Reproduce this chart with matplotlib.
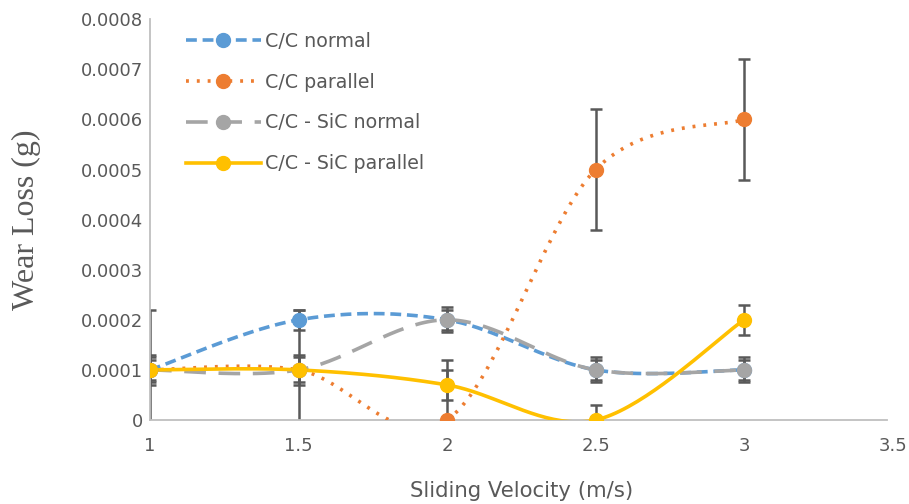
import numpy as np
import matplotlib.pyplot as plt

# Sliding velocity (m/s) and wear loss (g) for each sample / orientation
velocity = [1, 1.5, 2, 2.5, 3]
cc_normal = [0.0001, 0.0002, 0.0002, 0.0001, 0.0001]
cc_parallel = [0.0001, 0.0001, 0.0, 0.0005, 0.0006]
sic_normal = [0.0001, 0.0001, 0.0002, 0.0001, 0.0001]
sic_parallel = [0.0001, 0.0001, 0.00007, 0.0, 0.0002]

# error bar half-widths (g)
err_cc_normal = 0.00002
err_cc_parallel = 0.00012
err_sic_normal = 0.000025
err_sic_parallel = 0.00003

series = [
    ("C/C normal", cc_normal, err_cc_normal, "#5b9bd5", (0, (3, 1.6))),
    ("C/C parallel", cc_parallel, err_cc_parallel, "#ed7d31", (0, (0.8, 2.2))),
    ("C/C - SiC normal", sic_normal, err_sic_normal, "#a5a5a5", (0, (6, 3.5))),
    ("C/C - SiC parallel", sic_parallel, err_sic_parallel, "#ffc000", "-"),
]


def smooth(x, y, n=40):
    # Catmull-Rom style bezier through the points, like a spreadsheet "smoothed line"
    x = np.asarray(x, float)
    y = np.asarray(y, float)
    px = np.concatenate([[x[0]], x, [x[-1]]])
    py = np.concatenate([[y[0]], y, [y[-1]]])
    xs, ys = [], []
    t = np.linspace(0, 1, n)
    for i in range(1, len(px) - 2):
        p0 = np.array([px[i], py[i]])
        p3 = np.array([px[i + 1], py[i + 1]])
        p1 = p0 + (p3 - np.array([px[i - 1], py[i - 1]])) / 6
        p2 = p3 - (np.array([px[i + 2], py[i + 2]]) - p0) / 6
        b = ((1 - t) ** 3)[:, None] * p0 + (3 * (1 - t) ** 2 * t)[:, None] * p1 \
            + (3 * (1 - t) * t ** 2)[:, None] * p2 + (t ** 3)[:, None] * p3
        xs.extend(b[:, 0])
        ys.extend(b[:, 1])
    return np.array(xs), np.array(ys)


fig = plt.figure(figsize=(9.09, 5.04), dpi=100)
ax = fig.add_axes([0.165, 0.1667, 0.817, 0.795])

for label, vals, err, color, ls in series:
    ax.errorbar(velocity, vals, yerr=err, fmt="none", ecolor="#595959",
                elinewidth=1.8, capsize=4, capthick=1.8, zorder=2)

for label, vals, err, color, ls in series:
    sx, sy = smooth(velocity, vals)
    ax.plot(sx, sy, color=color, linestyle=ls, linewidth=2.6, zorder=3)
    ax.plot(velocity, vals, "o", color=color, markersize=10, zorder=4)
    ax.plot([], [], color=color, linestyle=ls, linewidth=2.6,
            marker="o", markersize=10, label=label)

ax.set_xlim(1, 3.5)
ax.set_ylim(0, 0.0008)
ax.set_xticks([1, 1.5, 2, 2.5, 3, 3.5])
ax.set_xticklabels(["1", "1.5", "2", "2.5", "3", "3.5"])
ax.set_yticks(np.arange(0, 0.00081, 0.0001))
ax.set_yticklabels(["0"] + ["%.4f" % v for v in np.arange(0.0001, 0.00081, 0.0001)])

ax.tick_params(length=0, labelsize=13, labelcolor="#595959")
ax.tick_params(axis="y", pad=5)
ax.tick_params(axis="x", pad=12)
for s in ["top", "right"]:
    ax.spines[s].set_visible(False)
ax.spines["left"].set_color("#bfbfbf")
ax.spines["bottom"].set_color("#bfbfbf")
ax.spines["left"].set_linewidth(1.3)
ax.spines["bottom"].set_linewidth(1.3)
ax.spines["bottom"].set_bounds(1, 3.48)

ax.set_xlabel("Sliding Velocity (m/s)", fontsize=15.3, color="#595959", labelpad=19)
ax.set_ylabel("Wear Loss (g)", fontsize=23, color="#595959",
              family="Liberation Serif", labelpad=29)

leg = ax.legend(loc="upper left", bbox_to_anchor=(0.025, 1.012), frameon=False,
                fontsize=13.7, handlelength=3.95, labelspacing=1.15,
                handletextpad=0.22, labelcolor="#595959")

fig.savefig("out.png", dpi=100)
